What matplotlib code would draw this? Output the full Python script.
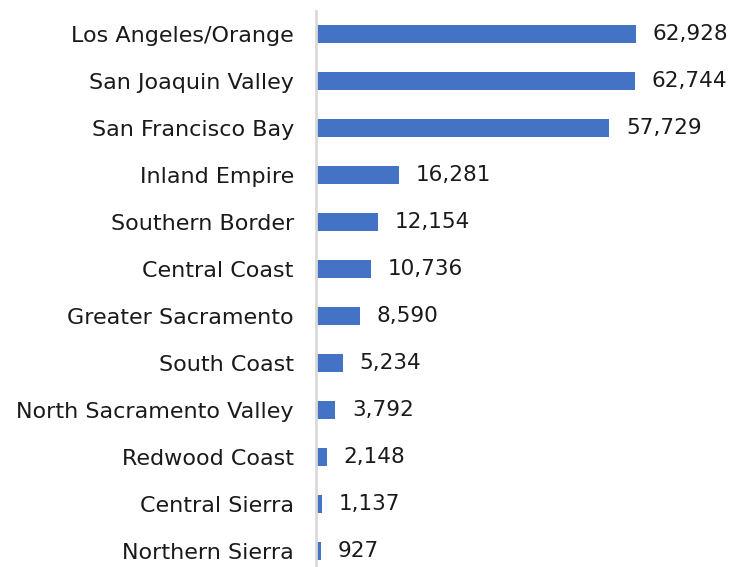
import matplotlib
matplotlib.use("Agg")
import matplotlib.pyplot as plt

regions = [
    "Los Angeles/Orange", "San Joaquin Valley", "San Francisco Bay",
    "Inland Empire", "Southern Border", "Central Coast",
    "Greater Sacramento", "South Coast", "North Sacramento Valley",
    "Redwood Coast", "Central Sierra", "Northern Sierra",
]
values = [62928, 62744, 57729, 16281, 12154, 10736, 8590, 5234, 3792, 2148, 1137, 927]

plt.rcParams["font.family"] = ["DejaVu Sans"]

fig = plt.figure(figsize=(7.37, 5.67), dpi=100)
# axes runs a bit below the figure edge, as in the cropped original
ax = fig.add_axes([316 / 737, -7.5 / 567, 381 / 737, 564 / 567])

pos = list(range(len(regions)))
ax.barh(pos, values, height=0.38, color="#4472C4")
ax.set_ylim(len(regions) - 0.5, -0.5)
ax.set_xlim(0, 75000)

ax.set_yticks(pos)
ax.set_yticklabels(regions, fontsize=16, color="#1a1a1a")
ax.tick_params(axis="y", length=0, pad=16)
ax.set_xticks([])

for s in ["top", "right", "bottom"]:
    ax.spines[s].set_visible(False)
ax.spines["left"].set_color("#D9D9D9")
ax.spines["left"].set_linewidth(2)

for p, v in zip(pos, values):
    ax.text(v + 3300, p, f"{v:,}", va="center", ha="left", fontsize=15.5,
            color="#1a1a1a", clip_on=False)

fig.savefig("out.png", dpi=100)
